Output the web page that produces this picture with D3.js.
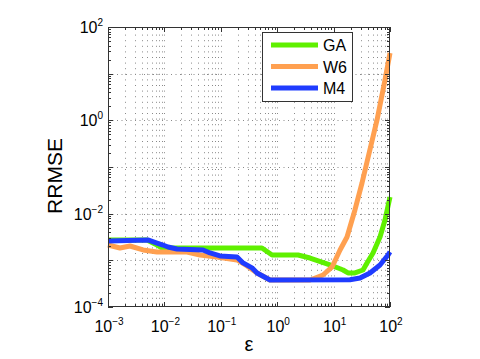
<!DOCTYPE html>
<html lang="en">
<head>
<meta charset="UTF-8">
<title>RRMSE vs epsilon</title>
<script src="https://d3js.org/d3.v7.min.js"></script>
<style>
  body { margin: 0; background: #fff; }
  text { font-family: "Liberation Sans", Arial, sans-serif; fill: #000; }
</style>
</head>
<body>
<script>
// data: [epsilon, RRMSE]
var gaData = [[0.001, 2.73e-3], [4.9e-3, 2.73e-3], [7.4e-3, 2.13e-3], [9.1e-3, 1.84e-3],
  [0.537, 1.84e-3], [0.81, 1.30e-3], [2.34, 1.30e-3], [3.82, 1.12e-3], [8.6, 7.95e-4],
  [13.0, 6.6e-4], [14.7, 6.2e-4], [18.0, 5.36e-4], [23.9, 5.36e-4], [33.2, 6.2e-4],
  [39.1, 8.8e-4], [50.0, 1.44e-3], [66.5, 3.16e-3], [81.5, 7.3e-3], [100, 0.0228]];
var w6Data = [[0.001, 2.13e-3], [1.63e-3, 1.84e-3], [2.45e-3, 2.03e-3], [4.18e-3, 1.67e-3],
  [7.4e-3, 1.51e-3], [0.0252, 1.51e-3], [0.0428, 1.30e-3], [0.0857, 1.18e-3], [0.194, 1.02e-3],
  [0.292, 7.6e-4], [0.439, 5.36e-4], [0.745, 3.79e-4], [3.82, 3.79e-4], [6.5, 4.85e-4],
  [9.4, 7.2e-4], [13.0, 1.67e-3], [17.3, 3.16e-3], [23.9, 0.012], [31.9, 0.0454],
  [39.1, 0.128], [58.9, 1.02], [81.5, 7.3], [100, 27.7]];
var m4Data = [[0.001, 2.60e-3], [5.1e-3, 2.73e-3], [7.4e-3, 2.35e-3], [9.4e-3, 2.13e-3],
  [0.0116, 1.93e-3], [0.0167, 1.75e-3], [0.0483, 1.67e-3], [0.0645, 1.44e-3], [0.0968, 1.24e-3],
  [0.194, 1.18e-3], [0.248, 8.8e-4], [0.357, 6.9e-4], [0.439, 5.36e-4], [0.745, 3.79e-4],
  [19.5, 3.85e-4], [29.4, 4.19e-4], [44.2, 5.36e-4], [66.5, 7.95e-4], [92.2, 1.3e-3], [100, 1.51e-3]];

var seriesNames = ['GA', 'W6', 'M4'];
var seriesColors = ['#5ff000', '#ffa050', '#1f3cff'];
var xTickExps = [-3, -2, -1, 0, 1, 2];
var yTickExps = [-4, -2, 0, 2];

var width = 480, height = 359;
var pLeft = 108, pRight = 390, pTop = 27, pBottom = 307;

var svg = d3.select('body').append('svg').attr('width', width).attr('height', height);

var x = d3.scaleLog().domain([1e-3, 1e2]).range([pLeft, pRight]);
var y = d3.scaleLog().domain([1e-4, 1e2]).range([pBottom, pTop]);

// minor tick values
var xMinor = [], yMinor = [];
for (var e = -3; e < 2; e++) for (var k = 2; k < 10; k++) xMinor.push(k * Math.pow(10, e));
for (var e2 = -4; e2 < 2; e2++) for (var k2 = 2; k2 < 10; k2++) yMinor.push(k2 * Math.pow(10, e2));
var xMajor = d3.range(-3, 3).map(function (d) { return Math.pow(10, d); });
var yMajor = d3.range(-4, 3).map(function (d) { return Math.pow(10, d); });

var grid = svg.append('g').attr('stroke', '#8a8a8a').attr('stroke-width', 1);
// vertical dotted grid at every x tick
grid.selectAll('.vg').data(xMinor.concat(xMajor.slice(1, -1))).join('line')
  .attr('x1', function (d) { return Math.round(x(d)) + 0.5; })
  .attr('x2', function (d) { return Math.round(x(d)) + 0.5; })
  .attr('y1', pTop + 2).attr('y2', pBottom)
  .attr('stroke-dasharray', '1,4.6');
// horizontal dotted grid at decades
grid.selectAll('.hg').data(yMajor.slice(1, -1)).join('line')
  .attr('y1', function (d) { return Math.round(y(d)) + 0.5; })
  .attr('y2', function (d) { return Math.round(y(d)) + 0.5; })
  .attr('x1', pLeft).attr('x2', pRight)
  .attr('stroke-dasharray', '1,3.5');

// curves
var line = d3.line()
  .x(function (d) { return x(d[0]); })
  .y(function (d) { return y(d[1]); });
var allData = [gaData, w6Data, m4Data];
svg.append('g').selectAll('path').data(allData).join('path')
  .attr('d', line)
  .attr('fill', 'none')
  .attr('stroke', function (d, i) { return seriesColors[i]; })
  .attr('stroke-width', 5)
  .attr('stroke-linejoin', 'round');

// box and ticks
var axes = svg.append('g').attr('stroke', '#333').attr('stroke-width', 1);
axes.append('rect').attr('x', pLeft + 0.5).attr('y', pTop + 0.5)
  .attr('width', pRight - pLeft - 1).attr('height', pBottom - pTop - 1).attr('fill', 'none');

function xTicks(vals, len) {
  vals.forEach(function (v) {
    var px = Math.round(x(v)) + 0.5;
    axes.append('line').attr('x1', px).attr('x2', px).attr('y1', pBottom).attr('y2', pBottom - len);
    axes.append('line').attr('x1', px).attr('x2', px).attr('y1', pTop).attr('y2', pTop + len);
  });
}
function yTicks(vals, len) {
  vals.forEach(function (v) {
    var py = Math.round(y(v)) + 0.5;
    axes.append('line').attr('y1', py).attr('y2', py).attr('x1', pLeft).attr('x2', pLeft + len);
    axes.append('line').attr('y1', py).attr('y2', py).attr('x1', pRight).attr('x2', pRight - len);
  });
}
xTicks(xMajor, 5); xTicks(xMinor, 3);
yTicks(yMajor, 5); yTicks(yMinor, 3);

// tick labels (10 with superscript)
xTickExps.forEach(function (ex) {
  var t = svg.append('text').attr('x', x(Math.pow(10, ex)) + 1).attr('y', 332)
    .attr('text-anchor', 'middle').style('font-size', '16px');
  t.append('tspan').text('10');
  t.append('tspan').attr('dy', -7).style('font-size', '10px').text(ex < 0 ? '\u2212' + (-ex) : ex);
});
yTickExps.forEach(function (ex) {
  var t = svg.append('text').attr('x', 103).attr('y', y(Math.pow(10, ex)) + 6)
    .attr('text-anchor', 'end').style('font-size', '16px');
  t.append('tspan').text('10');
  t.append('tspan').attr('dy', -7).style('font-size', '10px').text(ex < 0 ? '\u2212' + (-ex) : ex);
});

// axis titles
svg.append('text').attr('x', (pLeft + pRight) / 2).attr('y', 351)
  .attr('text-anchor', 'middle').style('font-size', '20px').text('\u03b5');
svg.append('text').attr('transform', 'translate(62,176) rotate(-90)')
  .attr('text-anchor', 'middle').style('font-size', '21px').text('RRMSE');

// legend
var lg = svg.append('g');
lg.append('rect').attr('x', 262.5).attr('y', 32.5).attr('width', 90).attr('height', 69)
  .attr('fill', '#fff').attr('stroke', '#333');
seriesNames.forEach(function (name, i) {
  var ly = 45 + i * 21.5;
  lg.append('line').attr('x1', 271).attr('x2', 318).attr('y1', ly).attr('y2', ly)
    .attr('stroke', seriesColors[i]).attr('stroke-width', 5);
  lg.append('text').attr('x', 323).attr('y', ly + 6).style('font-size', '16px').text(name);
});
</script>
</body>
</html>
